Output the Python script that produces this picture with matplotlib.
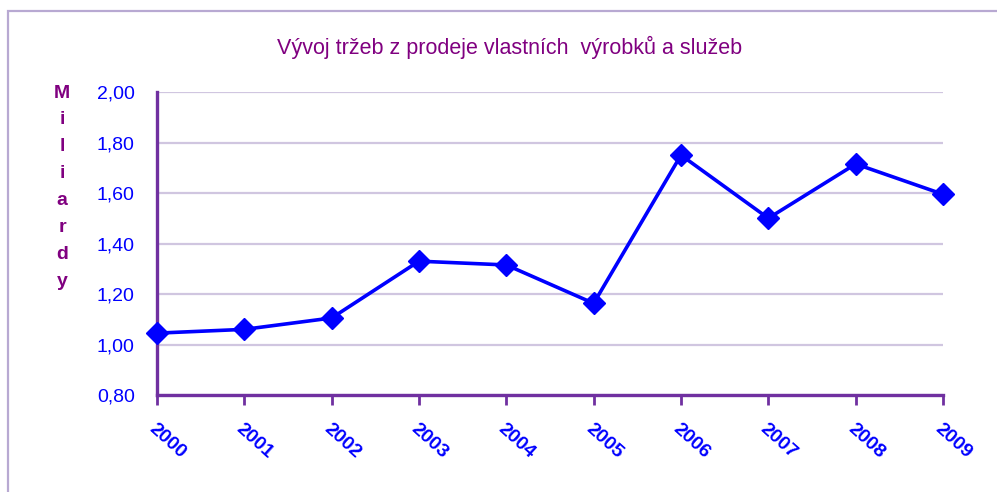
import matplotlib.pyplot as plt
from matplotlib.patches import Rectangle

plt.rcParams['font.family'] = ['Liberation Sans', 'DejaVu Sans']

years = ['2000', '2001', '2002', '2003', '2004', '2005', '2006', '2007', '2008', '2009']
trzby = [1.045, 1.06, 1.105, 1.33, 1.315, 1.163, 1.75, 1.50, 1.715, 1.595]
y_ticks = [0.80, 1.00, 1.20, 1.40, 1.60, 1.80, 2.00]
y_labels = ['0,80', '1,00', '1,20', '1,40', '1,60', '1,80', '2,00']

W, H = 997, 492
fig = plt.figure(figsize=(W / 100, H / 100), dpi=100)

# outer chart border (runs off the right / bottom edge like the original)
fig.patches.append(Rectangle((8 / W, -0.1), 1.2, 1 - 11 / H + 0.1, transform=fig.transFigure,
                             fill=False, edgecolor='#b8a9d2', linewidth=1.6))

ax = fig.add_axes([157 / W, 1 - 395 / H, (943 - 157) / W, (395 - 92) / H])

x = list(range(len(years)))
ax.plot(x, trzby, color='#0000ff', linewidth=2.6, marker='D', markersize=11,
        markerfacecolor='#0000ff', markeredgecolor='#0000ff', zorder=5, clip_on=False)

ax.set_xlim(0, len(years) - 1)
ax.set_ylim(0.8, 2.0)
ax.set_yticks(y_ticks)
ax.set_yticklabels(y_labels, color='#0000ff', fontsize=14)
ax.tick_params(axis='y', length=0, pad=16)

ax.set_xticks(x)
ax.set_xticklabels(years, color='#0000ff', fontsize=14, fontweight='bold',
                   rotation=-42, ha='left', va='top', rotation_mode='anchor')
ax.tick_params(axis='x', direction='out', length=7, width=2, color='#7030a0', pad=11)

ax.grid(axis='y', color='#d0c6e0', linewidth=1.6)
ax.set_axisbelow(True)
for side in ['top', 'right']:
    ax.spines[side].set_visible(False)
for side in ['left', 'bottom']:
    ax.spines[side].set_color('#7030a0')
    ax.spines[side].set_linewidth(2.4)
ax.spines['bottom'].set_zorder(4)

fig.text(510 / W, 1 - 47 / H, 'Vývoj tržeb z prodeje vlastních  výrobků a služeb',
         color='#800080', fontsize=15.5, ha='center', va='center')

# vertical stacked axis title
for i, ch in enumerate('Miliardy'):
    fig.text(62 / W, 1 - (93 + i * 26.9) / H, ch, color='#800080', fontsize=14,
             fontweight='bold', ha='center', va='center')

fig.savefig('out.png', dpi=100)
